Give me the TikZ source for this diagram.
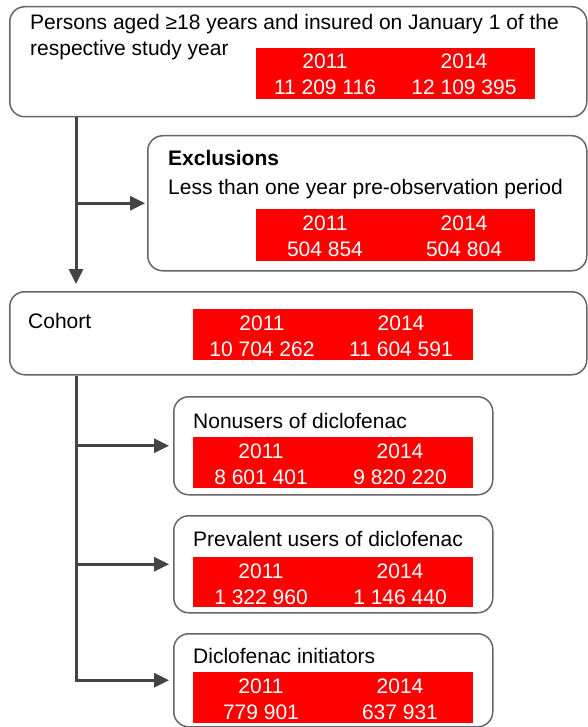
\documentclass[tikz,border=0pt]{standalone}
\usepackage{fontspec}
\setmainfont{Liberation Sans}
\usetikzlibrary{arrows.meta}
\definecolor{boxgray}{HTML}{666666}
\definecolor{arrgray}{HTML}{444444}
\definecolor{redfill}{HTML}{FF0000}
\begin{document}
\begin{tikzpicture}[x=1pt,y=-1pt,
  box/.style={draw=boxgray, line width=1.5pt, rounded corners=15pt, anchor=north west, inner sep=0pt},
  redbox/.style={fill=redfill, anchor=north west, inner sep=0pt, minimum width=280pt, minimum height=51pt},
  lbl/.style={anchor=base west, inner sep=0pt, font=\fontsize{21}{25}\selectfont},
  num/.style={anchor=base, inner sep=0pt, text=white, font=\fontsize{21}{25}\selectfont},
  arr/.style={draw=arrgray, line width=3pt, -{Triangle[length=15pt,width=14pt]}}]
\useasboundingbox (0,0) rectangle (587,727);

% boxes
\node[box, minimum width=577pt, minimum height=110pt] (b1) at (9,6) {};
\node[box, minimum width=439pt, minimum height=135pt] (excl) at (147,135) {};
\node[box, minimum width=577pt, minimum height=83pt] (coh) at (9,291) {};
\node[box, minimum width=319pt, minimum height=98pt] (b4) at (173,396) {};
\node[box, minimum width=319pt, minimum height=97pt] (b5) at (173,515) {};
\node[box, minimum width=319pt, minimum height=93pt] (b6) at (173,633) {};

% red boxes
\node[redbox, minimum width=279pt] (r1) at (256,48) {};
\node[redbox, minimum width=279pt, minimum height=52pt] (r2) at (256,209) {};
\node[redbox] (r3) at (193,309) {};
\node[redbox] (r4) at (193,437) {};
\node[redbox, minimum height=50pt] (r5) at (193,557) {};
\node[redbox] (r6) at (193,672) {};

% labels
\node[lbl] (t1a) at (30,30) {Persons aged ≥18 years and insured on January 1 of the};
\node[lbl] (t1b) at (30,56) {respective study year};
\node[lbl, font=\fontsize{21}{25}\selectfont\bfseries] (t2a) at (168,166) {Exclusions};
\node[lbl] (t2b) at (168,195) {Less than one year pre-observation period};
\node[lbl] (t3) at (28,328) {Cohort};
\node[lbl] (t4) at (193,428) {Nonusers of diclofenac};
\node[lbl] (t5) at (193,546) {Prevalent users of diclofenac};
\node[lbl] (t6) at (193,663) {Diclofenac initiators};

% numbers
\node[num] (n1a) at (325,69) {2011};
\node[num] (n1b) at (464,69) {2014};
\node[num] (n1c) at (325,95) {11 209 116};
\node[num] (n1d) at (464,95) {12 109 395};

\node[num] (n2a) at (325,230) {2011};
\node[num] (n2b) at (464,230) {2014};
\node[num] (n2c) at (325,256) {504 854};
\node[num] (n2d) at (464,256) {504 804};

\node[num] (n3a) at (262,330) {2011};
\node[num] (n3b) at (401,330) {2014};
\node[num] (n3c) at (262,356) {10 704 262};
\node[num] (n3d) at (401,356) {11 604 591};

\node[num] (n4a) at (261,458) {2011};
\node[num] (n4b) at (400,458) {2014};
\node[num] (n4c) at (261,484) {8 601 401};
\node[num] (n4d) at (400,484) {9 820 220};

\node[num] (n5a) at (261,578) {2011};
\node[num] (n5b) at (400,578) {2014};
\node[num] (n5c) at (261,604) {1 322 960};
\node[num] (n5d) at (400,604) {1 146 440};

\node[num] (n6a) at (261,693) {2011};
\node[num] (n6b) at (400,693) {2014};
\node[num] (n6c) at (261,719) {779 901};
\node[num] (n6d) at (400,719) {637 931};

% connectors
\coordinate (k) at (76,0);
\draw[arr, shorten >=7pt] (b1.south -| k) -- (coh.north -| k);
\draw[arr, shorten >=2pt] (k |- excl.west) -- (excl.west);
\draw[arr, shorten >=4pt] (coh.south -| k) |- (b6.west);
\draw[arr, shorten >=4pt] (k |- b4.west) -- (b4.west);
\draw[arr, shorten >=4pt] (k |- b5.west) -- (b5.west);
\end{tikzpicture}
\end{document}
